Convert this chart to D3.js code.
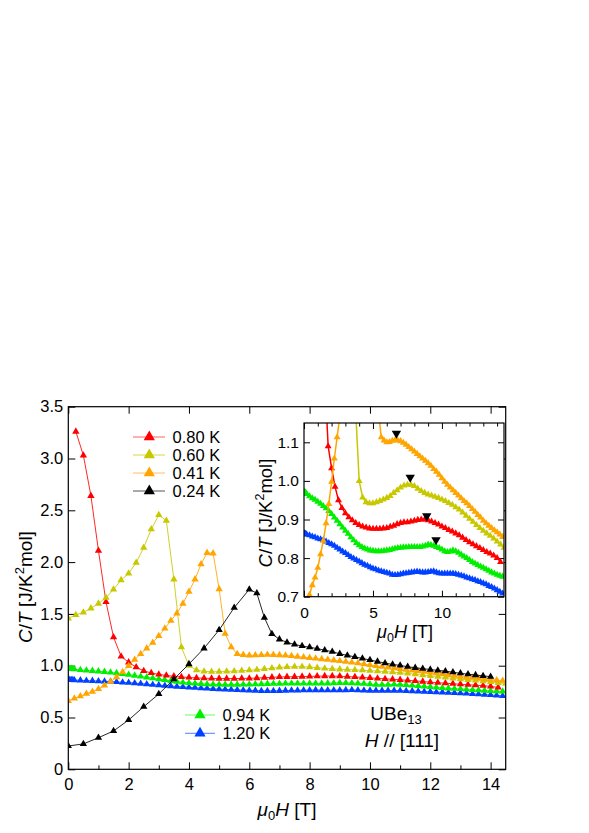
<!DOCTYPE html>
<html><head><meta charset="utf-8">
<script src="https://cdn.jsdelivr.net/npm/d3@7"></script>
<style>
body{margin:0;background:#fff}
svg{display:block}
text{font-family:"Liberation Sans",Arial,Helvetica,sans-serif;fill:#000}
</style></head>
<body><svg id="c" width="589" height="833"></svg>
<script>
// ---- data: [mu0H (T), C/T (J/K^2 mol)] ----
const t080 = [[0.25,3.26],[0.5,3.03],[0.75,2.64],[1.0,2.11],[1.25,1.615],[1.5,1.275],[1.75,1.09],[2.0,1.033],[2.25,0.985],[2.5,0.95],[2.75,0.93],[3.0,0.916],[3.25,0.906],[3.5,0.898],[3.75,0.891],[4.0,0.886],[4.25,0.882],[4.5,0.879],[4.75,0.877],[5.0,0.876],[5.25,0.876],[5.5,0.876],[5.75,0.877],[6.0,0.878],[6.25,0.881],[6.5,0.884],[6.75,0.888],[7.0,0.891],[7.25,0.893],[7.5,0.893],[7.75,0.895],[8.0,0.897],[8.25,0.899],[8.5,0.9],[8.75,0.9],[9.0,0.898],[9.25,0.895],[9.5,0.891],[9.75,0.887],[10.0,0.882],[10.25,0.878],[10.5,0.873],[10.75,0.869],[11.0,0.864],[11.25,0.859],[11.5,0.853],[11.75,0.847],[12.0,0.841],[12.25,0.836],[12.5,0.831],[12.75,0.826],[13.0,0.821],[13.25,0.816],[13.5,0.812],[13.75,0.807],[14.0,0.8],[14.25,0.79]];
const t060 = [[0,1.457],[0.25,1.49],[0.5,1.515],[0.75,1.554],[1.0,1.6],[1.25,1.656],[1.5,1.737],[1.75,1.827],[2.0,1.89],[2.25,1.994],[2.5,2.14],[2.75,2.317],[3.0,2.455],[3.25,2.4],[3.5,1.834],[3.75,1.178],[4.0,1.0],[4.25,0.957],[4.5,0.945],[4.75,0.942],[5.0,0.942],[5.25,0.945],[5.5,0.948],[5.75,0.952],[6.0,0.956],[6.25,0.961],[6.5,0.969],[6.75,0.976],[7.0,0.983],[7.25,0.988],[7.5,0.99],[7.75,0.99],[8.0,0.987],[8.25,0.98],[8.5,0.974],[8.75,0.969],[9.0,0.965],[9.25,0.962],[9.5,0.959],[9.75,0.956],[10.0,0.952],[10.25,0.948],[10.5,0.943],[10.75,0.938],[11.0,0.932],[11.25,0.926],[11.5,0.918],[11.75,0.91],[12.0,0.902],[12.25,0.894],[12.5,0.886],[12.75,0.878],[13.0,0.871],[13.25,0.864],[13.5,0.858],[13.75,0.851],[14.0,0.843],[14.25,0.835],[14.5,0.827]];
const t041 = [[0,0.66],[0.2,0.685],[0.4,0.705],[0.6,0.73],[0.8,0.75],[1.0,0.775],[1.2,0.81],[1.4,0.845],[1.6,0.89],[1.8,0.94],[2.0,0.998],[2.2,1.058],[2.4,1.113],[2.6,1.168],[2.8,1.222],[3.0,1.287],[3.2,1.36],[3.4,1.434],[3.6,1.506],[3.8,1.6],[4.0,1.714],[4.2,1.834],[4.4,1.98],[4.6,2.09],[4.8,2.085],[5.0,1.74],[5.2,1.31],[5.4,1.18],[5.6,1.113],[5.8,1.105],[6.0,1.1],[6.2,1.101],[6.4,1.104],[6.6,1.106],[6.8,1.105],[7.0,1.103],[7.2,1.099],[7.4,1.094],[7.6,1.088],[7.8,1.082],[8.0,1.076],[8.2,1.07],[8.4,1.064],[8.6,1.058],[8.8,1.052],[9.0,1.046],[9.2,1.039],[9.4,1.031],[9.6,1.024],[9.8,1.016],[10.0,1.007],[10.2,0.998],[10.4,0.99],[10.6,0.983],[10.8,0.976],[11.0,0.969],[11.2,0.962],[11.4,0.955],[11.6,0.948],[11.8,0.942],[12.0,0.935],[12.2,0.927],[12.4,0.92],[12.6,0.912],[12.8,0.905],[13.0,0.897],[13.2,0.89],[13.4,0.884],[13.6,0.878],[13.8,0.872],[14.0,0.867],[14.2,0.861],[14.4,0.855]];
const t024 = [[0,0.225],[0.5,0.245],[1.0,0.305],[1.5,0.37],[2.0,0.476],[2.5,0.604],[3.0,0.727],[3.5,0.87],[4.0,1.016],[4.5,1.168],[5.0,1.345],[5.5,1.56],[6.0,1.737],[6.25,1.7],[6.5,1.464],[6.75,1.306],[7.0,1.255],[7.25,1.225],[7.5,1.205],[7.75,1.19],[8.0,1.178],[8.25,1.165],[8.5,1.15],[8.75,1.135],[9.0,1.115],[9.25,1.1],[9.5,1.085],[9.75,1.07],[10.0,1.055],[10.25,1.04],[10.5,1.025],[10.75,1.012],[11.0,1.003],[11.25,0.99],[11.5,0.98],[11.75,0.972],[12.0,0.963],[12.25,0.955],[12.5,0.947],[12.75,0.937],[13.0,0.927],[13.25,0.918],[13.5,0.91],[13.75,0.902],[14.0,0.894]];
const t094 = [[0,0.972],[0.05,0.971],[0.1,0.97],[0.15,0.968],[0.2,0.966],[0.4,0.96],[0.6,0.955],[0.8,0.951],[1.0,0.946],[1.2,0.941],[1.4,0.935],[1.6,0.929],[1.8,0.922],[2.0,0.914],[2.2,0.905],[2.4,0.897],[2.6,0.888],[2.8,0.879],[3.0,0.871],[3.2,0.863],[3.4,0.854],[3.6,0.846],[3.8,0.839],[4.0,0.833],[4.2,0.829],[4.4,0.825],[4.6,0.822],[4.8,0.82],[5.0,0.819],[5.2,0.818],[5.4,0.818],[5.6,0.818],[5.8,0.819],[6.0,0.82],[6.2,0.821],[6.4,0.823],[6.6,0.825],[6.8,0.826],[7.0,0.827],[7.2,0.828],[7.4,0.828],[7.6,0.829],[7.8,0.829],[8.0,0.829],[8.2,0.829],[8.4,0.829],[8.6,0.83],[8.8,0.832],[9.0,0.835],[9.2,0.834],[9.4,0.832],[9.6,0.829],[9.8,0.826],[10.0,0.822],[10.2,0.818],[10.4,0.816],[10.6,0.817],[10.8,0.82],[11.0,0.818],[11.2,0.814],[11.4,0.809],[11.6,0.804],[11.8,0.8],[12.0,0.795],[12.2,0.79],[12.4,0.786],[12.6,0.782],[12.8,0.778],[13.0,0.775],[13.2,0.771],[13.4,0.767],[13.6,0.763],[13.8,0.76],[14.0,0.757],[14.2,0.754],[14.4,0.752]];
const t120 = [[0,0.864],[0.05,0.864],[0.1,0.863],[0.15,0.862],[0.2,0.861],[0.4,0.859],[0.6,0.856],[0.8,0.854],[1.0,0.851],[1.2,0.849],[1.4,0.847],[1.6,0.843],[1.8,0.839],[2.0,0.836],[2.2,0.832],[2.4,0.827],[2.6,0.822],[2.8,0.817],[3.0,0.813],[3.2,0.808],[3.4,0.803],[3.6,0.799],[3.8,0.795],[4.0,0.791],[4.2,0.787],[4.4,0.783],[4.6,0.78],[4.8,0.776],[5.0,0.773],[5.2,0.771],[5.4,0.768],[5.6,0.766],[5.8,0.764],[6.0,0.762],[6.2,0.76],[6.4,0.757],[6.6,0.756],[6.8,0.757],[7.0,0.758],[7.2,0.76],[7.4,0.761],[7.6,0.762],[7.8,0.763],[8.0,0.764],[8.2,0.765],[8.4,0.764],[8.6,0.763],[8.8,0.763],[9.0,0.764],[9.2,0.765],[9.4,0.766],[9.6,0.763],[9.8,0.761],[10.0,0.76],[10.2,0.76],[10.4,0.76],[10.6,0.76],[10.8,0.76],[11.0,0.759],[11.2,0.757],[11.4,0.755],[11.6,0.753],[11.8,0.75],[12.0,0.748],[12.2,0.745],[12.4,0.743],[12.6,0.74],[12.8,0.738],[13.0,0.735],[13.2,0.732],[13.4,0.728],[13.6,0.725],[13.8,0.721],[14.0,0.717],[14.2,0.713],[14.4,0.708]];
// anomaly markers (inverted triangles) in inset
const anomalies = [[6.7,1.123],[7.7,1.009],[8.9,0.909],[9.57,0.847]];

const legendTop = ["0.80 K","0.60 K","0.41 K","0.24 K"];
const legendBottom = ["0.94 K","1.20 K"];
const mainXTicks = [0,2,4,6,8,10,12,14];
const mainXMinor = [1,3,5,7,9,11,13];
const mainYTicks = [0,0.5,1.0,1.5,2.0,2.5,3.0,3.5];
const insetXTicks = [0,5,10];
const insetXMinor = [1,2,3,4,6,7,8,9,11,12,13,14];
const insetYTicks = [0.7,0.8,0.9,1.0,1.1];

const colors = {t080:"#ff0000", t060:"#c8c800", t041:"#ffa500", t024:"#000000", t094:"#00ee00", t120:"#0040ff"};
const series = [
  {key:"t120", data:t120, inset:true},
  {key:"t094", data:t094, inset:true},
  {key:"t080", data:t080, inset:true},
  {key:"t060", data:t060, inset:true},
  {key:"t041", data:t041, inset:true},
  {key:"t024", data:t024, inset:false}
];

const svg = d3.select("#c");
const FONT = '"Liberation Sans",Arial,Helvetica,sans-serif';

// ---------- main plot ----------
const x = d3.scaleLinear().domain([0,14.5]).range([68.3,505.7]);
const y = d3.scaleLinear().domain([0,3.5]).range([769.3,406.7]);
const defs = svg.append("defs");
defs.append("clipPath").attr("id","clipMain").append("rect")
  .attr("x",x(0)).attr("y",y(3.5)).attr("width",x(14.5)-x(0)).attr("height",y(0)-y(3.5));

const fmt1 = d => d===0 ? "0" : d3.format(".1f")(d);

function styleAxis(g, fs){
  g.select(".domain").remove();
  g.selectAll("line").attr("stroke","#000").attr("stroke-width",1);
  g.selectAll("text").attr("font-size",fs).attr("font-family",FONT).attr("fill","#000");
}

svg.append("g").attr("transform",`translate(0,${y(0)})`)
  .call(d3.axisBottom(x).tickValues(mainXTicks).tickFormat(d3.format("d")).tickSize(-7).tickPadding(9))
  .call(g=>styleAxis(g,16.5));
svg.append("g").attr("transform",`translate(0,${y(0)})`)
  .call(d3.axisBottom(x).tickValues(mainXMinor).tickFormat("").tickSize(-4))
  .call(g=>styleAxis(g,16));
svg.append("g").attr("transform",`translate(0,${y(3.5)})`)
  .call(d3.axisTop(x).tickValues(mainXTicks).tickFormat("").tickSize(-7))
  .call(g=>styleAxis(g,16));
svg.append("g").attr("transform",`translate(${x(0)},0)`)
  .call(d3.axisLeft(y).tickValues(mainYTicks).tickFormat(fmt1).tickSize(-7).tickPadding(5))
  .call(g=>styleAxis(g,16.5));
svg.append("g").attr("transform",`translate(${x(14.5)},0)`)
  .call(d3.axisRight(y).tickValues(mainYTicks).tickFormat("").tickSize(-7))
  .call(g=>styleAxis(g,16));

const mainG = svg.append("g").attr("clip-path","url(#clipMain)");
const lineMain = d3.line().x(d=>x(d[0])).y(d=>y(d[1]));
const triMain = d3.symbol(d3.symbolTriangle, 23);
series.forEach(s=>{
  const g = mainG.append("g");
  g.append("path").attr("d",lineMain(s.data)).attr("fill","none")
    .attr("stroke",colors[s.key]).attr("stroke-width",1).attr("opacity",0.85);
  g.selectAll("path.m").data(s.data).join("path").attr("class","m")
    .attr("d",triMain).attr("transform",d=>`translate(${x(d[0])},${y(d[1])})`)
    .attr("fill",colors[s.key]);
});

svg.append("rect").attr("x",x(0)).attr("y",y(3.5)).attr("width",x(14.5)-x(0)).attr("height",y(0)-y(3.5))
  .attr("fill","none").attr("stroke","#000").attr("stroke-width",1.2);

// main axis titles
const yt = svg.append("text").attr("transform","translate(32,587) rotate(-90)")
  .attr("text-anchor","middle").attr("font-size",19);
yt.append("tspan").attr("font-style","italic").text("C");
yt.append("tspan").text("/");
yt.append("tspan").attr("font-style","italic").text("T");
yt.append("tspan").text(" [J/K");
yt.append("tspan").attr("font-size",13).attr("dy",-8).text("2");
yt.append("tspan").attr("dy",8).text("mol]");

const xt = svg.append("text").attr("x",287).attr("y",816).attr("text-anchor","middle").attr("font-size",19);
xt.append("tspan").attr("font-style","italic").text("μ");
xt.append("tspan").attr("font-size",13).attr("dy",4).text("0");
xt.append("tspan").attr("font-style","italic").attr("dy",-4).text("H");
xt.append("tspan").text(" [T]");

// legends
const legTriBig = d3.symbol(d3.symbolTriangle, 55);
const topKeys = ["t080","t060","t041","t024"];
const legLine = {t080:"#ff6060", t060:"#d8d840", t041:"#ffc060", t024:"#555555", t094:"#60ff60", t120:"#5080ff"};
const leg1 = svg.append("g");
legendTop.forEach((lab,i)=>{
  const yy = 437 + i*18;
  const k = topKeys[i];
  leg1.append("line").attr("x1",133).attr("x2",165).attr("y1",yy).attr("y2",yy).attr("stroke",legLine[k]).attr("stroke-width",1);
  leg1.append("path").attr("d",legTriBig).attr("transform",`translate(149.3,${yy})`).attr("fill",colors[k]);
  leg1.append("text").attr("x",172.5).attr("y",yy+5.8).attr("font-size",16.5).text(lab);
});
const botKeys = ["t094","t120"];
legendBottom.forEach((lab,i)=>{
  const yy = 715 + i*18.3;
  const k = botKeys[i];
  leg1.append("line").attr("x1",185).attr("x2",215).attr("y1",yy).attr("y2",yy).attr("stroke",legLine[k]).attr("stroke-width",1);
  leg1.append("path").attr("d",legTriBig).attr("transform",`translate(200,${yy})`).attr("fill",colors[k]);
  leg1.append("text").attr("x",222.5).attr("y",yy+5.8).attr("font-size",16.5).text(lab);
});

// sample annotation
const ann1 = svg.append("text").attr("x",396).attr("y",720).attr("text-anchor","middle").attr("font-size",19);
ann1.append("tspan").text("UBe");
ann1.append("tspan").attr("font-size",13).attr("dy",4).text("13");
const ann2 = svg.append("text").attr("x",402).attr("y",747).attr("text-anchor","middle").attr("font-size",19);
ann2.append("tspan").attr("font-style","italic").text("H");
ann2.append("tspan").text(" // [111]");

// ---------- inset ----------
const xi = d3.scaleLinear().domain([0,14.5]).range([304,504]);
const yi = d3.scaleLinear().domain([0.7,1.15]).range([596.7,423]);
svg.append("rect").attr("x",xi(0)).attr("y",yi(1.15)).attr("width",xi(14.5)-xi(0)).attr("height",yi(0.7)-yi(1.15)).attr("fill","#fff");
defs.append("clipPath").attr("id","clipInset").append("rect")
  .attr("x",xi(0)).attr("y",yi(1.15)).attr("width",xi(14.5)-xi(0)).attr("height",yi(0.7)-yi(1.15));

svg.append("g").attr("transform",`translate(0,${yi(0.7)})`)
  .call(d3.axisBottom(xi).tickValues(insetXTicks).tickFormat(d3.format("d")).tickSize(-6).tickPadding(10))
  .call(g=>styleAxis(g,15.5));
svg.append("g").attr("transform",`translate(0,${yi(0.7)})`)
  .call(d3.axisBottom(xi).tickValues(insetXMinor).tickFormat("").tickSize(-3.5))
  .call(g=>styleAxis(g,15));
svg.append("g").attr("transform",`translate(0,${yi(1.15)})`)
  .call(d3.axisTop(xi).tickValues(insetXTicks).tickFormat("").tickSize(-6))
  .call(g=>styleAxis(g,15));
svg.append("g").attr("transform",`translate(0,${yi(1.15)})`)
  .call(d3.axisTop(xi).tickValues(insetXMinor).tickFormat("").tickSize(-3.5))
  .call(g=>styleAxis(g,15));
svg.append("g").attr("transform",`translate(${xi(0)},0)`)
  .call(d3.axisLeft(yi).tickValues(insetYTicks).tickFormat(d3.format(".1f")).tickSize(-6).tickPadding(5))
  .call(g=>styleAxis(g,15.5));
svg.append("g").attr("transform",`translate(${xi(14.5)},0)`)
  .call(d3.axisRight(yi).tickValues(insetYTicks).tickFormat("").tickSize(-6))
  .call(g=>styleAxis(g,15));

const insG = svg.append("g").attr("clip-path","url(#clipInset)");
const lineIns = d3.line().x(d=>xi(d[0])).y(d=>yi(d[1]));
const triIns = d3.symbol(d3.symbolTriangle, 21);
series.filter(s=>s.inset).forEach(s=>{
  const g = insG.append("g");
  g.append("path").attr("d",lineIns(s.data)).attr("fill","none")
    .attr("stroke",colors[s.key]).attr("stroke-width",1.5);
  g.selectAll("path.m").data(s.data).join("path").attr("class","m")
    .attr("d",triIns).attr("transform",d=>`translate(${xi(d[0])},${yi(d[1])})`)
    .attr("fill",colors[s.key]);
});
const triDown = d3.symbol(d3.symbolTriangle, 38);
insG.selectAll("path.a").data(anomalies).join("path").attr("class","a")
  .attr("d",triDown).attr("transform",d=>`translate(${xi(d[0])},${yi(d[1])}) rotate(180)`).attr("fill","#000");

svg.append("rect").attr("x",xi(0)).attr("y",yi(1.15)).attr("width",xi(14.5)-xi(0)).attr("height",yi(0.7)-yi(1.15))
  .attr("fill","none").attr("stroke","#000").attr("stroke-width",1.2);

const yti = svg.append("text").attr("transform","translate(271.5,513) rotate(-90)")
  .attr("text-anchor","middle").attr("font-size",18.5);
yti.append("tspan").attr("font-style","italic").text("C");
yti.append("tspan").text("/");
yti.append("tspan").attr("font-style","italic").text("T");
yti.append("tspan").text(" [J/K");
yti.append("tspan").attr("font-size",12.5).attr("dy",-8).text("2");
yti.append("tspan").attr("dy",8).text("mol]");

const xti = svg.append("text").attr("x",405).attr("y",638).attr("text-anchor","middle").attr("font-size",18);
xti.append("tspan").attr("font-style","italic").text("μ");
xti.append("tspan").attr("font-size",12.5).attr("dy",4).text("0");
xti.append("tspan").attr("font-style","italic").attr("dy",-4).text("H");
xti.append("tspan").text(" [T]");
</script></body></html>
